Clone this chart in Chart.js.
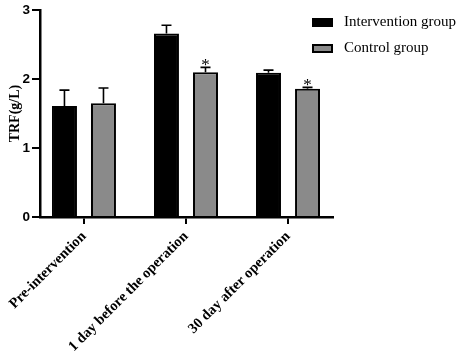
<!DOCTYPE html>
<html>
<head>
<meta charset="utf-8">
<script src="https://cdn.jsdelivr.net/npm/chart.js@4"></script>
<style>
  html, body { margin: 0; padding: 0; background: #fff; }
  #wrap { width: 462px; height: 355px; position: relative; }
</style>
</head>
<body>
<div id="wrap"><canvas id="chart"></canvas></div>
<script>
  // Values (TRF, g/L, mean + SD bar).
  const categories = ["Pre-intervention", "1 day before the operation", "30 day after operation"];
  const interventionMeans = [1.61, 2.66, 2.09];
  const interventionErr = [0.23, 0.12, 0.04];
  const controlMeans = [1.65, 2.10, 1.86];
  const controlErr = [0.22, 0.07, 0.02];
  const controlStars = ["", "*", "*"];
  const yTicks = [0, 1, 2, 3];

  const SERIF = "'Liberation Serif', 'Times New Roman', serif";
  const SANS = "'Liberation Sans', Arial, sans-serif";
  const GRAY = "#8a8a8a";

  // Categories sit on an index axis (0, 1, 2) so the end margins can match the figure.
  const xIndex = categories.map((c, i) => i);
  const toPoints = (vals) => vals.map((v, i) => ({ x: xIndex[i], y: v }));

  // Draw mean + SD whiskers and significance stars on top of the bars.
  const errorBars = {
    id: "errorBars",
    afterDatasetsDraw(chart) {
      const ctx = chart.ctx;
      const y = chart.scales.y;
      chart.data.datasets.forEach((ds, i) => {
        const meta = chart.getDatasetMeta(i);
        meta.data.forEach((bar, j) => {
          const top = y.getPixelForValue(ds.data[j].y + ds.errors[j]);
          ctx.save();
          ctx.strokeStyle = "#000";
          ctx.lineWidth = 1.6;
          ctx.beginPath();
          ctx.moveTo(bar.x, bar.y);
          ctx.lineTo(bar.x, top);
          ctx.moveTo(bar.x - 5, top);
          ctx.lineTo(bar.x + 5, top);
          ctx.stroke();
          if (ds.stars && ds.stars[j]) {
            ctx.fillStyle = "#000";
            ctx.font = "17px " + SERIF;
            ctx.textAlign = "center";
            ctx.textBaseline = "alphabetic";
            ctx.fillText(ds.stars[j], bar.x, top + 3);
          }
          ctx.restore();
        });
      });
    }
  };

  // Legend sits above the plot, partly over its right end, like the figure.
  const sideLegend = {
    id: "sideLegend",
    afterDraw(chart) {
      const ctx = chart.ctx;
      const x0 = chart.chartArea.right - 21;
      chart.data.datasets.forEach((ds, i) => {
        const yc = 22.5 + i * 26;
        ctx.save();
        ctx.fillStyle = ds.backgroundColor;
        ctx.fillRect(x0, yc - 4.5, 21, 9);
        ctx.strokeStyle = "#000";
        ctx.lineWidth = 2;
        ctx.strokeRect(x0 + 1, yc - 3.5, 19, 7);
        ctx.fillStyle = "#000";
        ctx.font = "15px " + SERIF;
        ctx.textBaseline = "middle";
        ctx.fillText(ds.label, x0 + 32, yc);
        ctx.restore();
      });
    }
  };

  new Chart(document.getElementById("chart"), {
    type: "bar",
    data: {
      datasets: [
        {
          label: "Intervention group",
          data: toPoints(interventionMeans),
          errors: interventionErr,
          backgroundColor: "#000",
          borderColor: "#000",
          borderWidth: 2,
          categoryPercentage: 0.765,
          barPercentage: 0.64,
        },
        {
          label: "Control group",
          data: toPoints(controlMeans),
          errors: controlErr,
          stars: controlStars,
          backgroundColor: GRAY,
          borderColor: "#000",
          borderWidth: 2,
          categoryPercentage: 0.765,
          barPercentage: 0.64,
        },
      ],
    },
    options: {
      responsive: true,
      maintainAspectRatio: false,
      animation: false,
      layout: { padding: { top: 7, right: 129, left: 0, bottom: 0 } },
      plugins: { legend: { display: false }, tooltip: { enabled: false } },
      scales: {
        x: {
          type: "linear",
          min: -0.431,
          max: 2.441,
          offset: false,
          afterBuildTicks(s) { s.ticks = xIndex.map((v) => ({ value: v })); },
          grid: { drawOnChartArea: false, offset: false, color: "#000", lineWidth: 2, tickLength: 7 },
          border: { color: "#000", width: 2.5 },
          ticks: {
            color: "#000",
            minRotation: 45,
            maxRotation: 45,
            padding: 4,
            autoSkip: false,
            callback: (v) => categories[v],
            font: { family: SERIF, size: 14.5, weight: "bold" },
          },
          afterFit(s) { s.height = 138; },
        },
        y: {
          min: 0,
          max: 3,
          afterBuildTicks(s) { s.ticks = yTicks.map((v) => ({ value: v })); },
          grid: { drawOnChartArea: false, color: "#000", lineWidth: 2, tickLength: 8 },
          border: { color: "#000", width: 2.5 },
          ticks: {
            color: "#000",
            padding: 2,
            font: { family: SANS, size: 13.5, weight: "bold" },
          },
          title: {
            display: true,
            text: "TRF(g/L)",
            color: "#000",
            padding: { top: 7, bottom: 0 },
            font: { family: SERIF, size: 14, weight: "bold" },
          },
          afterFit(s) { s.width = 40; },
        },
      },
    },
    plugins: [errorBars, sideLegend],
  });
</script>
</body>
</html>
